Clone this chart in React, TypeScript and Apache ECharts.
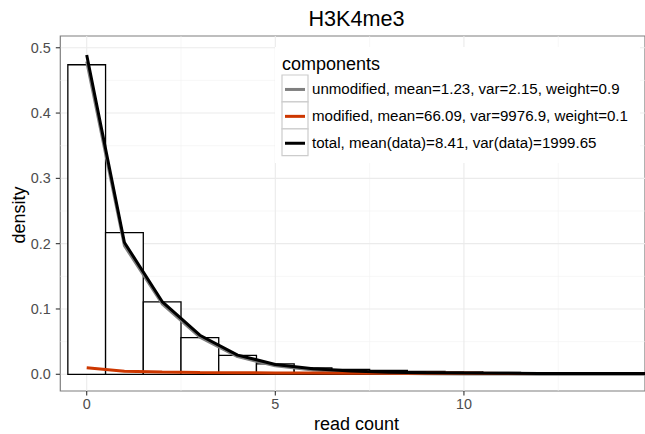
import React, { useEffect, useRef } from "react";
import * as echarts from "echarts";

const title = "H3K4me3";
const xTitle = "read count";
const yTitle = "density";
const legendTitle = "components";
const seriesNames = [
  "unmodified, mean=1.23, var=2.15, weight=0.9",
  "modified, mean=66.09, var=9976.9, weight=0.1",
  "total, mean(data)=8.41, var(data)=1999.65",
];
const seriesColors = ["#7F7F7F", "#CD3700", "#000000"];

const counts = [0, 1, 2, 3, 4, 5, 6, 7, 8, 9, 10, 11, 12, 13, 14, 15];
const histDensity = [0.474, 0.217, 0.111, 0.056, 0.029, 0.016, 0.0096, 0.0075, 0.006, 0.0045, 0.0038, 0.003, 0.0025, 0.002, 0.0018, 0.0015];
const unmodified = [0.479, 0.197, 0.108, 0.057, 0.027, 0.013, 0.0065, 0.0033, 0.0017, 0.0009, 0.0005, 0.0003, 0.0001, 0.0001, 0, 0];
const modified = [0.0101, 0.0048, 0.0034, 0.0028, 0.0024, 0.0021, 0.0019, 0.0017, 0.0016, 0.0015, 0.0014, 0.0013, 0.0012, 0.0012, 0.0011, 0.0011];
const total = [0.489, 0.2018, 0.1114, 0.0598, 0.0294, 0.0151, 0.0084, 0.005, 0.0033, 0.0024, 0.0019, 0.0016, 0.0013, 0.0013, 0.0011, 0.0011];

const xTicks = [0, 5, 10];
const yTicks = [0, 0.1, 0.2, 0.3, 0.4, 0.5];
const xMinor = [2.5, 7.5, 12.5];
const yMinor = [0.05, 0.15, 0.25, 0.35, 0.45];

const FONT = "'Liberation Sans', Arial, Helvetica, sans-serif";

export default function App() {
  const ref = useRef<HTMLDivElement>(null);
  useEffect(() => {
    if (!ref.current) return;
    const chart = echarts.init(ref.current, null, { renderer: "svg" });

    const hGrid = (vals: number[], major: boolean) => ({
      type: "custom",
      silent: true,
      z: 0,
      data: vals.map((v) => [v]),
      encode: { x: 0, y: 0 },
      renderItem: (params: any, api: any) => {
        const cs = params.coordSys;
        const y = api.coord([0, api.value(0)])[1];
        return {
          type: "line",
          shape: { x1: cs.x, y1: y, x2: cs.x + cs.width, y2: y },
          style: { stroke: major ? "#EBEBEB" : "#F2F2F2", lineWidth: major ? 1.1 : 0.6 },
        };
      },
    });
    const vGrid = (vals: number[], major: boolean) => ({
      type: "custom",
      silent: true,
      z: 0,
      data: vals.map((v) => [v]),
      encode: { x: 0, y: 0 },
      renderItem: (params: any, api: any) => {
        const cs = params.coordSys;
        const x = api.coord([api.value(0), 0])[0];
        return {
          type: "line",
          shape: { x1: x, y1: cs.y, x2: x, y2: cs.y + cs.height },
          style: { stroke: major ? "#EBEBEB" : "#F2F2F2", lineWidth: major ? 1.1 : 0.6 },
        };
      },
    });
    const yTickSeries = {
      type: "custom",
      silent: true,
      clip: false,
      z: 6,
      data: yTicks.map((v) => [v]),
      encode: { x: 0, y: 0 },
      renderItem: (params: any, api: any) => {
        const cs = params.coordSys;
        const y = api.coord([0, api.value(0)])[1];
        return {
          type: "line",
          shape: { x1: cs.x - 4.5, y1: y, x2: cs.x, y2: y },
          style: { stroke: "#333333", lineWidth: 1.1 },
        };
      },
    };
    const xTickSeries = {
      type: "custom",
      silent: true,
      clip: false,
      z: 6,
      data: xTicks.map((v) => [v]),
      encode: { x: 0, y: 0 },
      renderItem: (params: any, api: any) => {
        const cs = params.coordSys;
        const x = api.coord([api.value(0), 0])[0];
        const yb = cs.y + cs.height;
        return {
          type: "line",
          shape: { x1: x, y1: yb, x2: x, y2: yb + 4.5 },
          style: { stroke: "#333333", lineWidth: 1.1 },
        };
      },
    };

    const lineSeries = (name: string, vals: number[], color: string, z: number) => ({
      type: "line",
      name,
      z,
      data: counts.map((c, i) => [c, vals[i]]),
      showSymbol: false,
      symbol: "none",
      clip: true,
      lineStyle: { color, width: 3 },
      silent: true,
    });

    const rowTop = 75;
    const rowH = 26.9;
    const legendEls: any[] = [
      { type: "rect", z: 100, shape: { x: 275, y: 47, width: 365, height: 116 }, style: { fill: "#FFFFFF" } },
      {
        type: "text", z: 101, x: 282, y: 63.5,
        style: { text: legendTitle, fontSize: 18, fontFamily: FONT, fill: "#000", align: "left", verticalAlign: "middle" },
      },
    ];
    seriesNames.forEach((n, i) => {
      const top = rowTop + i * rowH;
      const cy = top + rowH / 2;
      legendEls.push({
        type: "rect", z: 101,
        shape: { x: 282, y: top, width: 26, height: rowH },
        style: { fill: "#FFFFFF", stroke: "#CCCCCC", lineWidth: 1.2 },
      });
      legendEls.push({
        type: "line", z: 102,
        shape: { x1: 285, y1: cy + 1, x2: 305, y2: cy + 1 },
        style: { stroke: seriesColors[i], lineWidth: 3 },
      });
      legendEls.push({
        type: "text", z: 102, x: 312, y: cy,
        style: { text: n, fontSize: 15.1, fontFamily: FONT, fill: "#000", align: "left", verticalAlign: "middle" },
      });
    });

    chart.setOption({
      animation: false,
      grid: {
        left: 60.3, top: 36, right: -8.9, bottom: 43,
        show: true, borderColor: "#7F7F7F", borderWidth: 1.2, backgroundColor: "transparent",
      },
      xAxis: {
        type: "value", min: -0.7, max: 14.8,
        axisLine: { show: false },
        splitLine: { show: false },
        axisTick: { show: false },
        axisLabel: {
          customValues: xTicks, margin: 5.5, fontSize: 14.4, fontFamily: FONT, color: "#4D4D4D",
          formatter: (v: number) => String(v),
        },
      },
      yAxis: {
        type: "value", min: -0.0256, max: 0.518,
        axisLine: { show: false },
        splitLine: { show: false },
        axisTick: { show: false },
        axisLabel: {
          customValues: yTicks, margin: 9.5, fontSize: 14.4, fontFamily: FONT, color: "#4D4D4D",
          formatter: (v: number) => v.toFixed(1),
        },
      },
      graphic: [
        {
          type: "text", x: 356.5, y: 18,
          style: { text: title, fontSize: 21.6, fontFamily: FONT, fill: "#000", align: "center", verticalAlign: "middle" },
        },
        {
          type: "text", x: 356.5, y: 424,
          style: { text: xTitle, fontSize: 18, fontFamily: FONT, fill: "#000", align: "center", verticalAlign: "middle" },
        },
        {
          type: "text", x: 18.5, y: 215, rotation: Math.PI / 2,
          style: { text: yTitle, fontSize: 18, fontFamily: FONT, fill: "#000", align: "center", verticalAlign: "middle" },
        },
        ...legendEls,
      ],
      series: [
        hGrid(yMinor, false),
        vGrid(xMinor, false),
        hGrid(yTicks, true),
        vGrid(xTicks, true),
        yTickSeries,
        xTickSeries,
        {
          type: "custom",
          z: 2,
          silent: true,
          clip: true,
          data: counts.map((c, i) => [c, histDensity[i]]),
          encode: { x: 0, y: 1 },
          renderItem: (params: any, api: any) => {
            const x = api.value(0);
            const d = api.value(1);
            const p1 = api.coord([x - 0.5, d]);
            const p2 = api.coord([x + 0.5, 0]);
            return {
              type: "rect",
              shape: { x: p1[0], y: p1[1], width: p2[0] - p1[0], height: p2[1] - p1[1] },
              style: { fill: "#FFFFFF", stroke: "#000000", lineWidth: 1.3 },
            };
          },
        },
        lineSeries(seriesNames[0], unmodified, seriesColors[0], 3),
        lineSeries(seriesNames[1], modified, seriesColors[1], 4),
        lineSeries(seriesNames[2], total, seriesColors[2], 5),
      ],
    });
    return () => chart.dispose();
  }, []);
  return <div ref={ref} style={{ position: "absolute", left: 0, top: 0, width: 645, height: 434 }} />;
}
